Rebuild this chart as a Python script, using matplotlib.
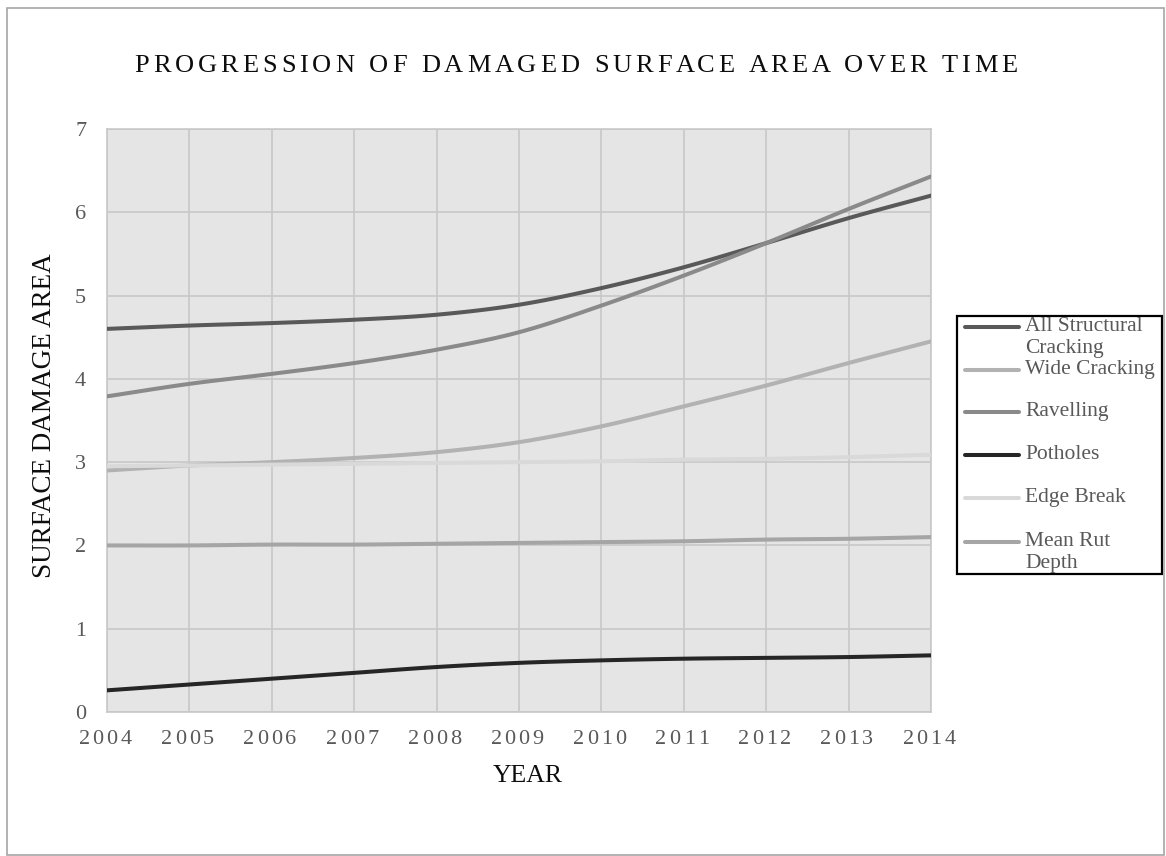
import numpy as np
import matplotlib; matplotlib.use("Agg")
import matplotlib.pyplot as plt
from matplotlib.font_manager import FontProperties
from matplotlib.transforms import IdentityTransform
from matplotlib.patches import Rectangle
from matplotlib.lines import Line2D

years = [2004, 2005, 2006, 2007, 2008, 2009, 2010, 2011, 2012, 2013, 2014]
structural = [4.60, 4.64, 4.67, 4.71, 4.77, 4.89, 5.09, 5.34, 5.63, 5.93, 6.20]
wide       = [2.90, 2.96, 3.00, 3.05, 3.12, 3.24, 3.43, 3.67, 3.92, 4.19, 4.45]
ravelling  = [3.79, 3.94, 4.06, 4.19, 4.35, 4.56, 4.88, 5.24, 5.63, 6.04, 6.43]
potholes   = [0.26, 0.33, 0.40, 0.47, 0.54, 0.59, 0.62, 0.64, 0.65, 0.66, 0.68]
edge       = [2.95, 2.96, 2.97, 2.98, 2.99, 3.00, 3.01, 3.03, 3.04, 3.06, 3.09]
rut        = [2.00, 2.00, 2.01, 2.01, 2.02, 2.03, 2.04, 2.05, 2.07, 2.08, 2.10]
labels = ["All Structural\nCracking", "Wide Cracking", "Ravelling", "Potholes", "Edge Break", "Mean Rut\nDepth"]
colors = ["#595959", "#b2b2b2", "#8a8a8a", "#262626", "#d9d9d9", "#a5a5a5"]
series = [structural, wide, ravelling, potholes, edge, rut]

SERIF = "Liberation Serif"; GREY_TXT = "#595959"
W, H = 1166, 856

def smooth(x, y, n=12):
    # catmull-rom, like excel's "smoothed line"
    x = np.asarray(x, float); y = np.asarray(y, float)
    px = np.r_[2*x[0]-x[1], x, 2*x[-1]-x[-2]]; py = np.r_[2*y[0]-y[1], y, 2*y[-1]-y[-2]]
    t = np.linspace(0, 1, n, endpoint=False)[:, None]
    out_x, out_y = [], []
    for i in range(1, len(px)-2):
        for P, out in ((px, out_x), (py, out_y)):
            p0, p1, p2, p3 = P[i-1], P[i], P[i+1], P[i+2]
            v = 0.5*((2*p1) + (-p0+p2)*t + (2*p0-5*p1+4*p2-p3)*t**2 + (-p0+3*p1-3*p2+p3)*t**3)
            out.extend(v.ravel())
    out_x.append(x[-1]); out_y.append(y[-1])
    return out_x, out_y

fig = plt.figure(figsize=(W/100, H/100), dpi=100)
ax = fig.add_axes([107/W, 1-712/H, (931-107)/W, (712-129)/H])
ax.set_facecolor("#e5e5e5")
for s, c in zip(series, colors):
    sx, sy = smooth(years, s)
    ax.plot(sx, sy, color=c, lw=2.9, solid_capstyle="round", zorder=3)
ax.set_xlim(years[0], years[-1]); ax.set_ylim(0, 7)
ax.set_xticks(years); ax.set_yticks(range(0, 8))
ax.grid(True, color="#c8c8c8", lw=1.2, zorder=0)
ax.set_axisbelow(True)
for sp in ax.spines.values(): sp.set_color("#c8c8c8"); sp.set_linewidth(1.2)
ax.tick_params(length=0, pad=15)
ax.set_xticklabels([])
for lab in ax.get_yticklabels(): lab.set_fontfamily(SERIF); lab.set_fontsize(16); lab.set_color(GREY_TXT)

r = fig.canvas.get_renderer()
def adv(s, fp):
    return r.get_text_width_height_descent(s+"|", fp, ismath=False)[0] - r.get_text_width_height_descent("|", fp, ismath=False)[0]
def tracked(cx, y, s, fp, width, color, va="baseline"):
    # excel-style expanded character spacing, positions in pixels
    natural = adv(s, fp); track = (width-natural)/(len(s)-1)
    x0 = cx - width/2
    for i, ch in enumerate(s):
        fig.text(x0+adv(s[:i], fp)+track*i, y, ch, fontproperties=fp, color=color, ha="left", va=va, transform=IdentityTransform())

tracked(576, H-72, "PROGRESSION OF DAMAGED SURFACE AREA OVER TIME", FontProperties(family=SERIF, size=19), 883, "#0d0d0d")
fp_tick = FontProperties(family=SERIF, size=16)
for yr in years:
    xp = ax.transData.transform((yr, 0))[0]
    tracked(xp-2, H-744, str(yr), fp_tick, 53, GREY_TXT)

fig.text(528/W, 1-776/H, "YEAR", family=SERIF, fontsize=18.5, ha="center", va="center", color="#0d0d0d")
fig.text(45/W, 1-416/H, "SURFACE DAMAGE AREA", family=SERIF, fontsize=19.5, rotation=90, ha="center", va="center", color="#0d0d0d")

# legend box drawn like excel's (wrapped labels overflow the row height)
fig.add_artist(Rectangle((957/W, 1-574/H), (1162-957)/W, (574-316)/H, transform=fig.transFigure, fill=False, ec="black", lw=1.6))
row_y = [327, 370, 412, 455, 498, 542]
for lab, c, yy in zip(labels, colors, row_y):
    fig.add_artist(Line2D([965/W, 1019/W], [1-yy/H, 1-yy/H], transform=fig.transFigure, color=c, lw=2.9, solid_capstyle="round"))
    fig.text(1025/W, 1-(yy-10)/H, lab, family=SERIF, fontsize=15.5, color=GREY_TXT, ha="left", va="top", linespacing=1.2)

# outer chart border
fig.add_artist(Rectangle((7/W, 1-855/H), (1164-7)/W, (855-8)/H, transform=fig.transFigure, fill=False, ec="#a6a6a6", lw=1.2))

fig.savefig("out.png", dpi=100)
